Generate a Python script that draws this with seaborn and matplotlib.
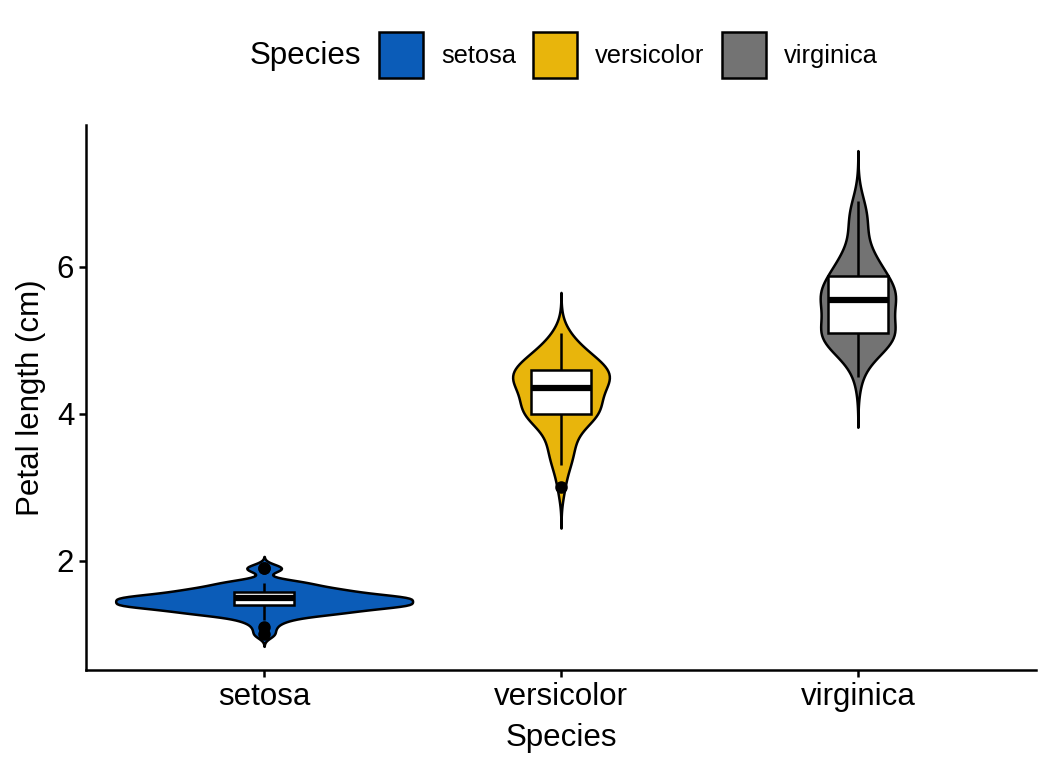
import numpy as np
import pandas as pd
import seaborn as sns
import matplotlib.pyplot as plt
from matplotlib.patches import Patch

species = ['setosa', 'versicolor', 'virginica']
colors = ['#0B5CB8', '#E8B50C', '#737373']

setosa = [1.4, 1.4, 1.3, 1.5, 1.4, 1.7, 1.4, 1.5, 1.4, 1.5, 1.5, 1.6, 1.4, 1.1, 1.2,
          1.5, 1.3, 1.4, 1.7, 1.5, 1.7, 1.5, 1.0, 1.7, 1.9, 1.6, 1.6, 1.5, 1.4, 1.6,
          1.6, 1.5, 1.5, 1.4, 1.5, 1.2, 1.3, 1.4, 1.3, 1.5, 1.3, 1.3, 1.3, 1.6, 1.9,
          1.4, 1.6, 1.4, 1.5, 1.4]
versicolor = [4.7, 4.5, 4.9, 4.0, 4.6, 4.5, 4.7, 3.3, 4.6, 3.9, 3.5, 4.2, 4.0, 4.7, 3.6,
              4.4, 4.5, 4.1, 4.5, 3.9, 4.8, 4.0, 4.9, 4.7, 4.3, 4.4, 4.8, 5.0, 4.5, 3.5,
              3.8, 3.7, 3.9, 5.1, 4.5, 4.5, 4.7, 4.4, 4.1, 4.0, 4.4, 4.6, 4.0, 3.3, 4.2,
              4.2, 4.2, 4.3, 3.0, 4.1]
virginica = [6.0, 5.1, 5.9, 5.6, 5.8, 6.6, 4.5, 6.3, 5.8, 6.1, 5.1, 5.3, 5.5, 5.0, 5.1,
             5.3, 5.5, 6.7, 6.9, 5.0, 5.7, 4.9, 6.7, 4.9, 5.7, 6.0, 4.8, 4.9, 5.6, 5.8,
             6.1, 6.4, 5.6, 5.1, 5.6, 6.1, 5.6, 5.5, 4.8, 5.4, 5.6, 5.1, 5.1, 5.9, 5.7,
             5.2, 5.0, 5.2, 5.4, 5.1]


def nrd0(kde):
    # R's default bandwidth (bw.nrd0), expressed as a gaussian_kde factor
    x = kde.dataset.ravel()
    sd = np.std(x, ddof=1)
    iqr = np.subtract(*np.percentile(x, [75, 25]))
    bw = 0.9 * min(sd, iqr / 1.34) * len(x) ** -0.2
    return bw / sd


df = pd.DataFrame({
    'Species': ['setosa'] * len(setosa) + ['versicolor'] * len(versicolor) + ['virginica'] * len(virginica),
    'Petal': setosa + versicolor + virginica,
})

sns.set_style('ticks')
plt.rcParams['font.family'] = ['Liberation Sans', 'DejaVu Sans']
plt.rcParams['text.color'] = 'black'
plt.rcParams['axes.labelcolor'] = 'black'

lw = 1.8
fig = plt.figure(figsize=(10.56, 7.68), dpi=100)
ax = fig.add_axes([86 / 1056, 1 - 670 / 768, 950 / 1056, 545 / 768])

sns.violinplot(data=df, x='Species', y='Petal', hue='Species', order=species,
               palette=colors, saturation=1, width=1, density_norm='area', common_norm=True,
               cut=3, bw_method=nrd0, inner=None, linewidth=lw, linecolor='black',
               legend=False, ax=ax)
sns.boxplot(data=df, x='Species', y='Petal', order=species, width=0.2, color='white',
            saturation=1, linecolor='black', linewidth=lw, showcaps=False,
            medianprops=dict(linewidth=4.5, color='black'),
            flierprops=dict(marker='o', markerfacecolor='black', markeredgecolor='black',
                            markersize=8),
            ax=ax)

ax.set_xlim(-0.6, 2.6)
ax.set_ylim(0.517, 7.93)
ax.set_yticks([2, 4, 6])
ax.set_xlabel('Species', fontsize=22.5, labelpad=8)
ax.set_ylabel('Petal length (cm)', fontsize=22.5, labelpad=8)
ax.tick_params(labelsize=22.5, length=5, width=lw, color='black', labelcolor='black')
for side in ['top', 'right']:
    ax.spines[side].set_visible(False)
for side in ['left', 'bottom']:
    ax.spines[side].set_linewidth(lw)
    ax.spines[side].set_color('black')

handles = [Patch(facecolor=c, edgecolor='black', linewidth=lw, label=s)
           for s, c in zip(species, colors)]
fig.legend(handles=handles, loc='center left', bbox_to_anchor=(379 / 1056, 1 - 55 / 768),
           ncol=3, frameon=False, fontsize=18.4, handlelength=1.73, handleheight=2.34,
           handletextpad=0.7, columnspacing=0.67, borderpad=0, borderaxespad=0)
fig.text(250 / 1056, 1 - 56 / 768, 'Species', fontsize=22.5, ha='left', va='center')

fig.savefig('out.png', dpi=100)
